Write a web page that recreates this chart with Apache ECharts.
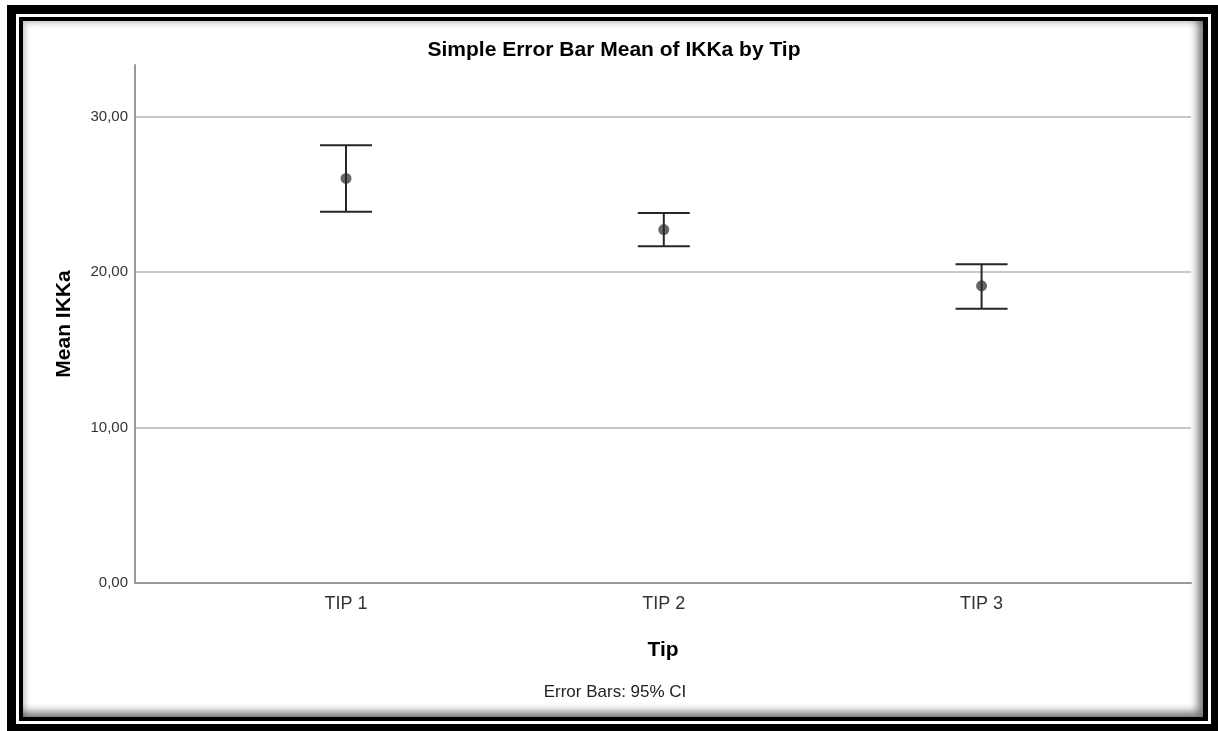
<!DOCTYPE html>
<html>
<head>
<meta charset="utf-8">
<title>Simple Error Bar Mean of IKKa by Tip</title>
<script src="https://cdn.jsdelivr.net/npm/echarts@6/dist/echarts.min.js"></script>
<style>
  html, body { margin: 0; padding: 0; background: #fff; }
  body { width: 1218px; height: 731px; position: relative; overflow: hidden; }
  /* double black frame with a thin white rule between */
  #frame { position: absolute; left: 7px; top: 5px; width: 1211px; height: 726px; background: #000; }
  #rule { position: absolute; left: 16px; top: 14px; width: 1195px; height: 710px;
          border: 3px solid #fff; box-sizing: border-box; background: #000; }
  #panel { position: absolute; left: 23px; top: 21px; width: 1180px; height: 696px; background: #fff;
           box-shadow: inset -7px -7px 8px -2px rgba(0,0,0,0.55), inset 4px 4px 6px -2px rgba(0,0,0,0.25); }
  #chart { position: absolute; left: 0; top: 0; width: 1218px; height: 731px; }
</style>
</head>
<body>
<div id="frame"></div>
<div id="rule"></div>
<div id="panel"></div>
<div id="chart"></div>
<script>
// Group labels and 95% confidence intervals of the mean IKKa per group
const categories = ['TIP 1', 'TIP 2', 'TIP 3'];
const means = [26.03, 22.74, 19.12];
const ciLower = [23.88, 21.67, 17.64];
const ciUpper = [28.17, 23.81, 20.51];
const yTicks = [0, 10, 20, 30];

const FONT = '"Liberation Sans", Arial, Helvetica, sans-serif';

// x positions 1..n for each group
const groupPos = categories.map((c, i) => i + 1);
const meanData = groupPos.map((x, i) => [x, means[i]]);
const ciData = groupPos.map((x, i) => [x, ciLower[i], ciUpper[i]]);

const chart = echarts.init(document.getElementById('chart'), null, { renderer: 'canvas' });

const option = {
  animation: false,
  backgroundColor: 'transparent',
  grid: { left: 135, right: 27, top: 65, bottom: 148, containLabel: false },
  graphic: [
    {
      type: 'text', x: 614, y: 50.5, silent: true,
      style: { text: 'Simple Error Bar Mean of IKKa by Tip', fill: '#000',
               font: 'bold 21px ' + FONT, align: 'center', verticalAlign: 'middle' }
    },
    {
      type: 'text', x: 615, y: 692, silent: true,
      style: { text: 'Error Bars: 95% CI', fill: '#222',
               font: '17px ' + FONT, align: 'center', verticalAlign: 'middle' }
    }
  ],
  xAxis: {
    type: 'value',
    min: 0.336,
    max: 3.659,
    name: 'Tip',
    nameLocation: 'middle',
    nameGap: 57,
    nameTextStyle: { fontFamily: FONT, fontSize: 21, fontWeight: 'bold', color: '#000' },
    axisLine: { show: true, onZero: false, lineStyle: { color: '#999', width: 2 } },
    axisTick: { show: false },
    splitLine: { show: false },
    axisLabel: {
      customValues: groupPos,
      formatter: v => categories[Math.round(v) - 1] || '',
      fontFamily: FONT, fontSize: 18, color: '#333', margin: 12
    }
  },
  yAxis: {
    type: 'value',
    min: 0,
    max: 33.33,
    interval: 10,
    name: 'Mean IKKa',
    nameLocation: 'middle',
    nameGap: 60,
    nameRotate: 90,
    nameTextStyle: { fontFamily: FONT, fontSize: 21, fontWeight: 'bold', color: '#000' },
    axisLine: { show: true, lineStyle: { color: '#999', width: 2 } },
    axisTick: { show: false },
    splitLine: { show: true, showMinLine: false, showMaxLine: false,
                 lineStyle: { color: '#c8c8c8', width: 2 } },
    axisLabel: {
      customValues: yTicks,
      formatter: v => v.toFixed(2).replace('.', ','),
      fontFamily: FONT, fontSize: 15, color: '#333', margin: 7
    }
  },
  series: [
    {
      name: 'Mean',
      type: 'scatter',
      data: meanData,
      symbol: 'circle',
      symbolSize: 11,
      itemStyle: { color: '#575757', opacity: 0.9 },
      z: 2
    },
    {
      name: '95% CI',
      type: 'custom',
      data: ciData,
      z: 3,
      renderItem: function (params, api) {
        const x = api.value(0);
        const lo = api.coord([x, api.value(1)]);
        const hi = api.coord([x, api.value(2)]);
        const half = 26;
        const style = { stroke: '#262626', lineWidth: 2 };
        return {
          type: 'group',
          children: [
            { type: 'line', shape: { x1: lo[0], y1: lo[1], x2: hi[0], y2: hi[1] }, style },
            { type: 'line', shape: { x1: hi[0] - half, y1: hi[1], x2: hi[0] + half, y2: hi[1] }, style },
            { type: 'line', shape: { x1: lo[0] - half, y1: lo[1], x2: lo[0] + half, y2: lo[1] }, style }
          ]
        };
      }
    }
  ]
};

chart.setOption(option);
</script>
</body>
</html>
